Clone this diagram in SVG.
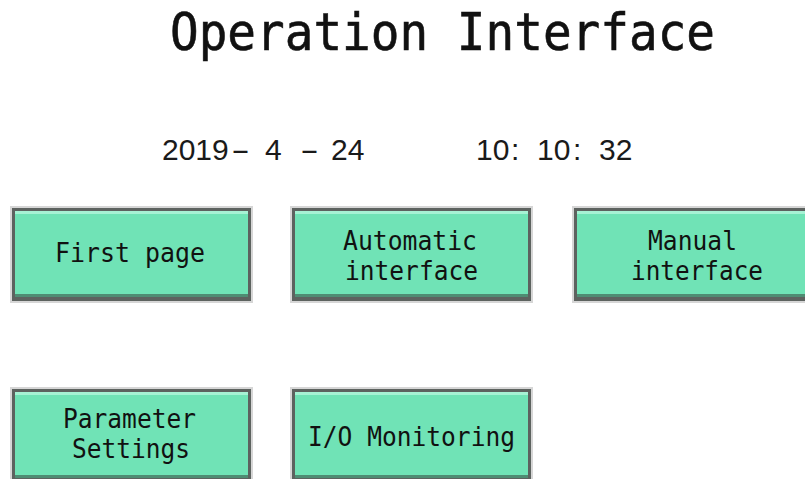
<svg xmlns="http://www.w3.org/2000/svg" xmlns:xlink="http://www.w3.org/1999/xlink" width="805" height="479" viewBox="0 0 805 479">
<style>
.t{font-family:"DejaVu Sans Mono","Liberation Mono",monospace;fill:#111;}
.b{font-size:26px;text-anchor:start;}
.d{font-family:"Liberation Sans",Arial,sans-serif;font-size:30px;fill:#1a1a1a;}
</style>
<defs>
<g id="btn">
<rect x="0" y="0" width="243" height="97" fill="#d6d6d6"/>
<rect x="2" y="2" width="239" height="93" fill="#5d625f"/>
<rect x="5" y="5" width="233" height="85" fill="#70e3b6"/>
<rect x="5" y="5" width="233" height="3" fill="#a6f2d4"/>
<rect x="5" y="88" width="233" height="3" fill="#4f8c73"/>
</g>
</defs>
<rect width="805" height="479" fill="#ffffff"/>
<text class="t" x="170" y="50" font-size="52" stroke="#111" stroke-width="0.6" textLength="545" lengthAdjust="spacingAndGlyphs">Operation Interface</text>
<text class="d" y="160" xml:space="preserve"><tspan x="162">2019</tspan><tspan x="231" textLength="19" lengthAdjust="spacingAndGlyphs">-</tspan> <tspan x="265">4</tspan> <tspan x="300" textLength="19" lengthAdjust="spacingAndGlyphs">-</tspan> <tspan x="331">24</tspan></text>
<text class="d" y="160" xml:space="preserve"><tspan x="476">10</tspan><tspan x="511">:</tspan> <tspan x="537">10</tspan><tspan x="573">:</tspan> <tspan x="599">32</tspan></text>
<g id="first-page">
<use xlink:href="#btn" x="10" y="206"/>
<text class="t b" x="55" y="262" textLength="150" lengthAdjust="spacingAndGlyphs">First page</text>
</g>
<g id="automatic-interface">
<use xlink:href="#btn" x="290" y="206"/>
<text class="t b" x="343" y="250" textLength="134" lengthAdjust="spacingAndGlyphs">Automatic</text>
<text class="t b" x="345" y="280" textLength="133" lengthAdjust="spacingAndGlyphs">interface</text>
</g>
<g id="manual-interface">
<use xlink:href="#btn" x="572" y="206"/>
<text class="t b" x="648" y="250" textLength="89" lengthAdjust="spacingAndGlyphs">Manual</text>
<text class="t b" x="631" y="280" textLength="132" lengthAdjust="spacingAndGlyphs">interface</text>
</g>
<g id="parameter-settings">
<use xlink:href="#btn" x="10" y="387"/>
<text class="t b" x="63" y="428" textLength="133" lengthAdjust="spacingAndGlyphs">Parameter</text>
<text class="t b" x="72" y="458" textLength="118" lengthAdjust="spacingAndGlyphs">Settings</text>
</g>
<g id="io-monitoring">
<use xlink:href="#btn" x="290" y="387"/>
<text class="t b" x="308" y="446" textLength="207" lengthAdjust="spacingAndGlyphs">I/O Monitoring</text>
</g>
<g id="connectors"/>
</svg>
